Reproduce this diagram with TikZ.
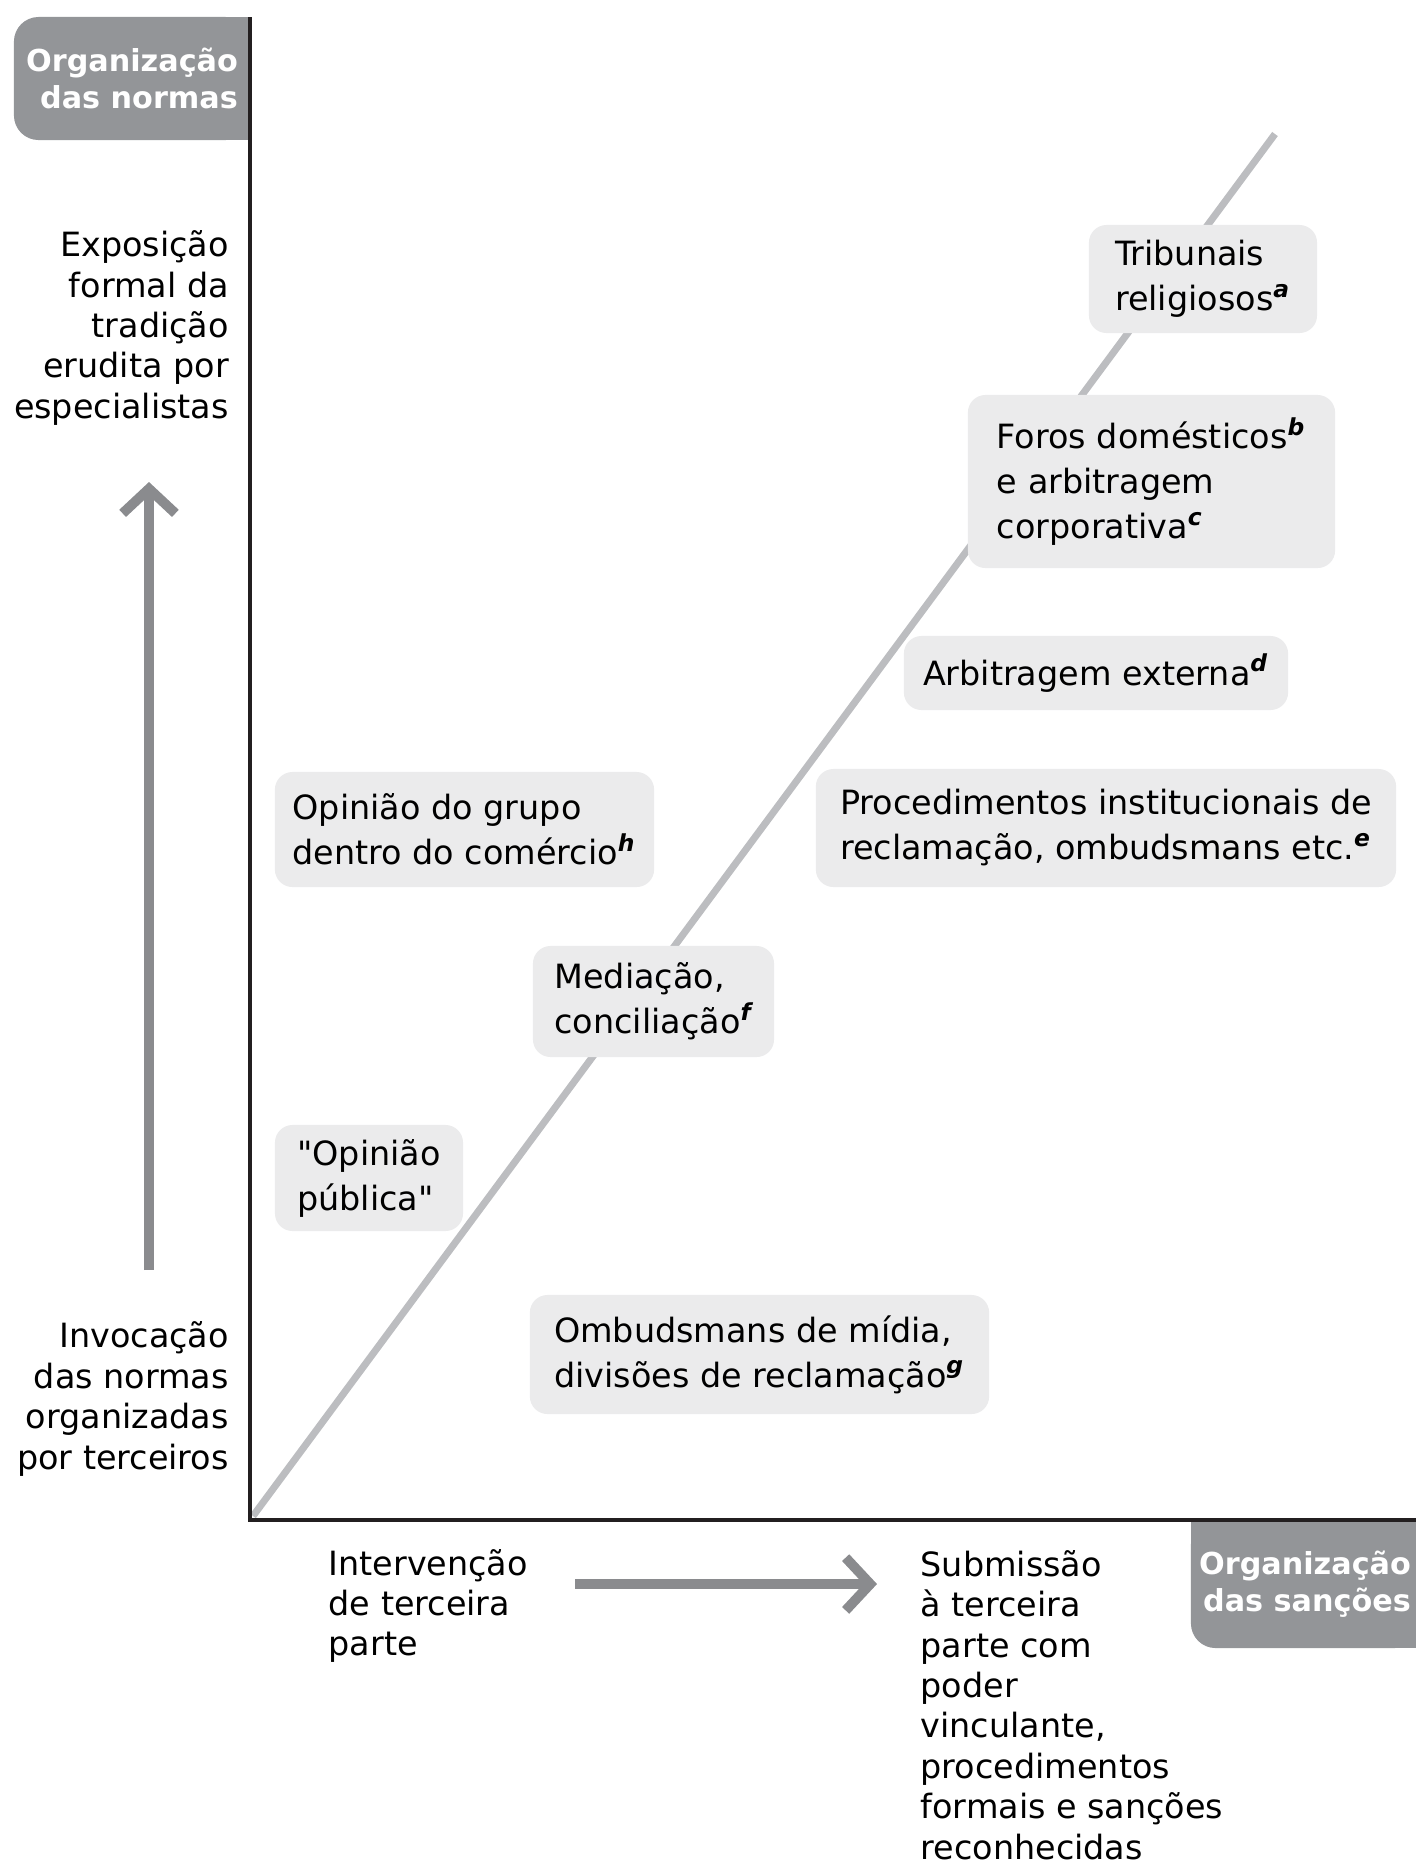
\documentclass[tikz,border=0pt]{standalone}
\usepackage{fontspec}
\setmainfont{DejaVu Sans}[Ligatures=TeXOff]
\usetikzlibrary{arrows.meta}
\definecolor{labelgray}{HTML}{939598}
\definecolor{boxgray}{HTML}{EBEBEC}
\definecolor{diaggray}{HTML}{BCBDC0}
\definecolor{arrowgray}{HTML}{8A8B8E}
\definecolor{axisblack}{HTML}{231F20}
\newcommand{\letra}[1]{\textsuperscript{\bfseries\itshape #1}}

\begin{document}
\begin{tikzpicture}[x=0.01cm, y=-0.01cm,
    casebox/.style={fill=boxgray, rounded corners=5pt, align=left, inner sep=0pt, font=\fontsize{9.5}{12.8}\selectfont},
    sidetext/.style={align=right, anchor=east, inner sep=0pt, font=\fontsize{9.5}{11.5}\selectfont},
    bottomtext/.style={align=left, anchor=west, inner sep=0pt, font=\fontsize{9.5}{11.5}\selectfont},
    axislabel/.style={fill=labelgray, text=white, rounded corners=7pt, inner sep=0pt, align=right, font=\fontsize{8.6}{10.5}\selectfont\bfseries},
    axis/.style={draw=axisblack, line width=1.4pt},
    arr/.style={-{Straight Barb[length=7pt,width=15pt]}, draw=arrowgray, line width=2.8pt}
]
\useasboundingbox (0,0) rectangle (1416,1865);

% eixos e diagonal
\coordinate (origin) at (250,1520);
\coordinate (ytop) at (250,17);
\coordinate (xend) at (1420,1520);
\coordinate (diagstart) at (253,1516);
\coordinate (diagend) at (1275,134);
\draw[diaggray, line width=2pt] (diagstart) -- (diagend);

% rótulos dos eixos
\fill[labelgray] (132,17) rectangle (250,140);
\node[axislabel, minimum width=2.36cm, minimum height=1.23cm] (normas) at (132,78.5) {Organização\\das normas};
\fill[labelgray] (1191,1520) rectangle (1419,1584);
\fill[labelgray] (1305,1584) rectangle (1419,1648);
\node[axislabel, minimum width=2.28cm, minimum height=1.28cm] (sancoes) at (1305,1584) {Organização\\das sanções};
\draw[axis] (ytop) -- (origin) -- (xend);

% textos laterais
\node[sidetext] (expos) at (229.5,328) {Exposição\\formal da\\tradição\\erudita por\\especialistas};
\node[sidetext] (invoc) at (229.5,1399) {Invocação\\das normas\\organizadas\\por terceiros};
\node[bottomtext] (interv) at (328,1606) {Intervenção\\de terceira\\parte};
\node[bottomtext] (submis) at (920,1705) {Submissão\\à terceira\\parte com\\poder\\vinculante,\\procedimentos\\formais e sanções\\reconhecidas};

% setas
\coordinate (upfrom) at (149,1270);
\coordinate (upto) at (149,482);
\coordinate (rightfrom) at (575,1584);
\coordinate (rightto) at (877,1584);
\draw[arr] (upfrom) -- (upto);
\draw[arr] (rightfrom) -- (rightto);

% casos
\node[casebox, minimum width=2.28cm, minimum height=1.08cm] (tribunais) at (1203,279) {Tribunais\\religiosos\letra{a}};
\node[casebox, minimum width=3.67cm, minimum height=1.73cm] (foros) at (1151.5,481.5) {Foros domésticos\letra{b}\\e arbitragem\\corporativa\letra{c}};
\node[casebox, minimum width=3.84cm, minimum height=0.74cm] (arbext) at (1096,673) {Arbitragem externa\letra{d}};
\node[casebox, minimum width=5.80cm, minimum height=1.18cm] (proced) at (1106,828) {Procedimentos institucionais de\\reclamação, ombudsmans etc.\letra{e}};
\node[casebox, minimum width=3.79cm, minimum height=1.15cm] (grupo) at (464.5,829.5) {Opinião do grupo\\dentro do comércio\letra{h}};
\node[casebox, minimum width=2.41cm, minimum height=1.11cm] (mediacao) at (653.5,1001.5) {Mediação,\\conciliação\letra{f}};
\node[casebox, minimum width=1.88cm, minimum height=1.06cm] (opiniao) at (369,1178) {"Opinião\\pública"};
\node[casebox, minimum width=4.59cm, minimum height=1.19cm] (ombuds) at (759.5,1354.5) {Ombudsmans de mídia,\\divisões de reclamação\letra{g}};
\end{tikzpicture}
\end{document}
